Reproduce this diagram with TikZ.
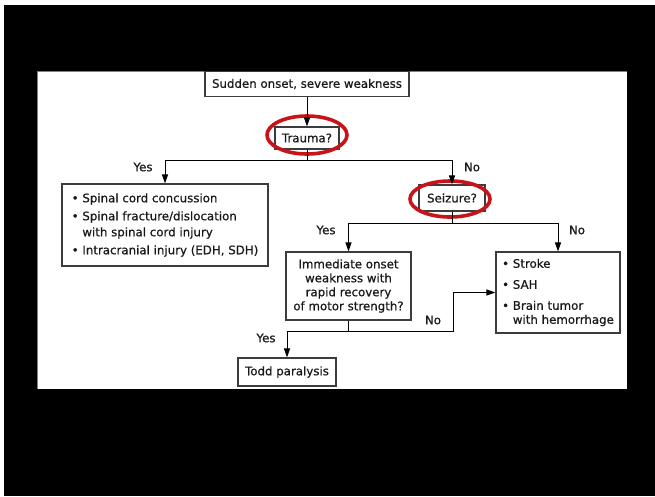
\documentclass[tikz,border=0pt]{standalone}
\usepackage{fontspec}
\setmainfont{DejaVu Sans}[FakeBold=0.6, AutoFakeBold=0.6]
\usetikzlibrary{arrows.meta, positioning, calc}
\definecolor{circred}{RGB}{200,20,24}
\definecolor{boxline}{RGB}{60,60,60}
\tikzset{
    flowbox/.style={draw=boxline, line width=1.1pt, inner sep=0pt, align=center},
    listbox/.style={flowbox, align=left},
    arr/.style={draw=black, line width=1pt, -{Triangle[length=9pt,width=6pt]}},
    answer/.style={inner sep=0pt},
    ring/.style={draw=circred, line width=3.6pt}
}
\begin{document}
\begin{tikzpicture}[x=1pt, y=-1pt]
    \tikzstyle{every node}=[font=\fontsize{11.8}{14}\selectfont\bfseries, text=black!90];
    \useasboundingbox (0,0) rectangle (655,496);
    % frame
    \fill[black] (4,5) rectangle (655,496);
    \fill[white] (37,71) rectangle (627,389);
    \draw[gray, line width=0.8pt] (37,389) -- (37,71) -- (627,71);
    % boxes
    \node[flowbox, minimum width=204, minimum height=25] (start) at (307,84) {Sudden onset, severe weakness};
    \node[flowbox, minimum width=64, minimum height=22] (trauma) at (307,138) {Trauma?};
    \node[listbox, minimum width=206, minimum height=82] (injury) at (165,225)
        {\textbullet\ Spinal cord concussion\\[4pt]
         \textbullet\ Spinal fracture/dislocation\\[2pt]
         \phantom{\textbullet\ }with spinal cord injury\\[4pt]
         \textbullet\ Intracranial injury (EDH, SDH)};
    \node[flowbox, minimum width=66, minimum height=26] (seizure) at (452,198) {Seizure?};
    \node[flowbox, minimum width=125, minimum height=68] (onset) at (348.5,286)
        {Immediate onset\\weakness with\\rapid recovery\\of motor strength?};
    \node[listbox, minimum width=124, minimum height=81] (causes) at (558,292.5)
        {\textbullet\ Stroke\\[7pt]
         \textbullet\ SAH\\[7pt]
         \textbullet\ Brain tumor\\
         \phantom{\textbullet\ }with hemorrhage};
    \node[flowbox, minimum width=98, minimum height=28] (todd) at (287,372) {Todd paralysis};
    % red rings
    \draw[ring] (307,135) ellipse (40 and 19);
    \draw[ring] (450,199) ellipse (40 and 18);
    % connectors
    \coordinate (bend) at (453,331);
    \draw[arr] (start) -- (trauma);
    \draw[arr] (trauma.south) -- ++(0,11) -| (injury.north);
    \draw[arr] (trauma.south) -- ++(0,11) -| (seizure.north);
    \draw[arr] (seizure.south) -- ++(0,12) -| (onset.north);
    \draw[arr] (seizure.south) -- ++(0,12) -| (causes.north);
    \draw[arr] (onset.south) -- ++(0,11) -| (todd.north);
    \draw[arr] (onset.south) |- (bend) |- (causes.west);
    % answers
    \node[answer] (y1) at (143,167) {Yes};
    \node[answer] (n1) at (472,167) {No};
    \node[answer] (y2) at (326,230) {Yes};
    \node[answer] (n2) at (577,230) {No};
    \node[answer] (n3) at (433,320) {No};
    \node[answer] (y3) at (266,338) {Yes};
\end{tikzpicture}
\end{document}
